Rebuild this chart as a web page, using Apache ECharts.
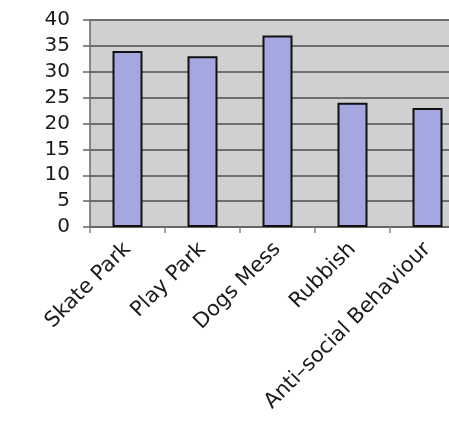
<!DOCTYPE html>
<html><head><meta charset="utf-8">
<script src="https://cdn.jsdelivr.net/npm/echarts@6/dist/echarts.min.js"></script>
<style>html,body{margin:0;padding:0;background:#fff}#c{width:449px;height:424px}</style>
</head><body><div id="c"></div>
<script>
const categories = ["Skate Park", "Play Park", "Dogs Mess", "Rubbish", "Anti\u2013social Behaviour"];
const values = [34, 33, 37, 24, 23];
const yTicks = [0, 5, 10, 15, 20, 25, 30, 35, 40];

const chart = echarts.init(document.getElementById('c'), null, {renderer: 'canvas'});
chart.setOption({
  animation: false,
  grid: {left: 90, top: 20, width: 375, height: 207, show: true, backgroundColor: '#d0d0d0', borderWidth: 0, outerBoundsMode: 'none', containLabel: false},
  xAxis: {
    type: 'category', data: categories, boundaryGap: true,
    axisLine: {show: true, lineStyle: {color: '#666', width: 2}},
    axisTick: {show: true, alignWithLabel: false, length: 6, lineStyle: {color: '#888', width: 1.5}},
    axisLabel: {rotate: 45, margin: 19, interval: 0, hideOverlap: false, fontFamily: 'DejaVu Sans', fontSize: 21, color: '#1a1a1a'}
  },
  yAxis: {
    type: 'value', min: yTicks[0], max: yTicks[yTicks.length - 1], interval: 5,
    axisLine: {show: true, lineStyle: {color: '#666', width: 1.5}},
    axisTick: {show: true, length: 7, lineStyle: {color: '#666', width: 1.5}},
    splitLine: {show: true, lineStyle: {color: '#6e6e6e', width: 2}},
    axisLabel: {margin: 20, fontFamily: 'DejaVu Sans', fontSize: 20, color: '#1a1a1a'}
  },
  series: [{
    type: 'bar', data: values, barWidth: 30,
    itemStyle: {color: '#a5a8e0', borderColor: '#111', borderWidth: 2}
  }]
});
</script></body></html>
